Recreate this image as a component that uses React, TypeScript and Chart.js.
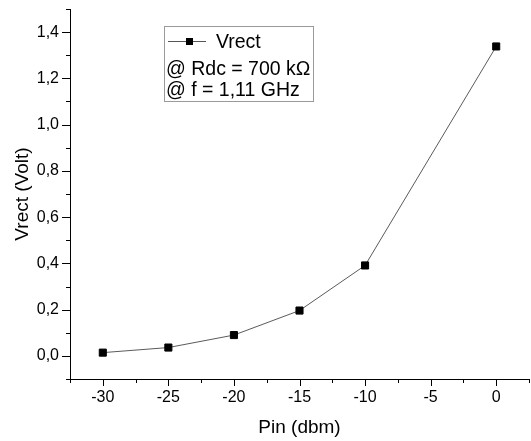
import React, { useEffect, useRef } from 'react';
import { Chart, registerables } from 'chart.js';

Chart.register(...registerables);

const pinDbm = [-30, -25, -20, -15, -10, 0];
const vrectVolt = [0.014, 0.036, 0.09, 0.196, 0.391, 1.338];
const xTickLabels = [-30, -25, -20, -15, -10, -5, 0];
const yTickLabels = [0, 0.2, 0.4, 0.6, 0.8, 1.0, 1.2, 1.4];
const seriesName = 'Vrect';
const annotationLines = ['@ Rdc = 700 kΩ', '@ f = 1,11 GHz'];
const xTitle = 'Pin (dbm)';
const yTitle = 'Vrect (Volt)';

const FONT = '"Liberation Sans", Arial, sans-serif';

const isIn = (arr: number[], v: number) => arr.some((t) => Math.abs(t - v) < 1e-6);

const tickMarks = {
  id: 'tickMarks',
  afterDraw(chart: any) {
    const ctx = chart.ctx;
    const xs = chart.scales.x;
    const ys = chart.scales.y;
    const area = chart.chartArea;
    ctx.save();
    ctx.strokeStyle = '#000';
    ctx.lineWidth = 1;
    ctx.beginPath();
    xs.ticks.forEach((t: any) => {
      const px = Math.round(xs.getPixelForValue(t.value)) + 0.5;
      const len = isIn(xTickLabels, t.value) ? 7 : 4;
      ctx.moveTo(px, area.bottom);
      ctx.lineTo(px, area.bottom + len);
    });
    ys.ticks.forEach((t: any) => {
      const py = Math.round(ys.getPixelForValue(t.value)) + 0.5;
      const len = isIn(yTickLabels, t.value) ? 8 : 4;
      ctx.moveTo(area.left, py);
      ctx.lineTo(area.left - len, py);
    });
    ctx.stroke();
    ctx.restore();
  },
};

const legendBox = {
  id: 'legendBox',
  afterDraw(chart: any) {
    const ctx = chart.ctx;
    ctx.save();
    ctx.strokeStyle = '#9a9a9a';
    ctx.lineWidth = 1;
    ctx.strokeRect(164.5, 26.5, 149, 75);
    ctx.strokeStyle = '#555';
    ctx.beginPath();
    ctx.moveTo(168, 41.5);
    ctx.lineTo(206, 41.5);
    ctx.stroke();
    ctx.fillStyle = '#000';
    ctx.fillRect(186, 38, 7, 7);
    ctx.font = '19.5px ' + FONT;
    ctx.textBaseline = 'alphabetic';
    ctx.textAlign = 'left';
    ctx.fillText(seriesName, 216, 48);
    ctx.fillText(annotationLines[0], 166, 74.5);
    ctx.fillText(annotationLines[1], 166, 96);
    ctx.restore();
  },
};

export default function App() {
  const ref = useRef<HTMLCanvasElement | null>(null);

  useEffect(() => {
    document.body.style.margin = '0';
    document.body.style.overflow = 'hidden';
    const canvas = ref.current;
    if (!canvas) return;
    const chart = new Chart(canvas, {
      type: 'line',
      data: {
        datasets: [
          {
            label: seriesName,
            data: pinDbm.map((x, i) => ({ x, y: vrectVolt[i] })),
            borderColor: '#5a5a5a',
            borderWidth: 1,
            pointStyle: 'rect',
            pointRadius: 5,
            pointBorderWidth: 1,
            pointBackgroundColor: '#000',
            pointBorderColor: '#000',
            tension: 0,
            fill: false,
            clip: false,
          },
        ],
      },
      plugins: [tickMarks, legendBox],
      options: {
        responsive: false,
        animation: false,
        devicePixelRatio: 1,
        layout: { autoPadding: false, padding: { top: 9, right: 2, left: 0, bottom: 0 } },
        plugins: {
          legend: { display: false },
          tooltip: { enabled: false },
        },
        scales: {
          x: {
            type: 'linear',
            min: -32.5,
            max: 2.5,
            grid: { display: false, drawTicks: false },
            border: { display: true, color: '#000', width: 1 },
            ticks: {
              stepSize: 2.5,
              autoSkip: false,
              maxRotation: 0,
              padding: 9,
              color: '#000',
              font: { family: FONT, size: 16 },
              callback: (v: any) => (isIn(xTickLabels, Number(v)) ? String(Math.round(Number(v))) : ''),
            },
            title: {
              display: true,
              text: xTitle,
              color: '#000',
              font: { family: FONT, size: 19 },
              padding: { top: 0, bottom: 2 },
            },
            afterFit: (s: any) => {
              s.height = 62;
              s.paddingLeft = 0;
              s.paddingRight = 0;
              s.paddingTop = 0;
              s.paddingBottom = 0;
            },
          },
          y: {
            type: 'linear',
            min: -0.1,
            max: 1.5,
            grid: { display: false, drawTicks: false },
            border: { display: true, color: '#000', width: 1 },
            ticks: {
              stepSize: 0.1,
              autoSkip: false,
              padding: 11,
              color: '#000',
              font: { family: FONT, size: 16 },
              callback: (v: any) =>
                isIn(yTickLabels, Number(v)) ? Number(v).toFixed(1).replace('.', ',') : '',
            },
            title: {
              display: true,
              text: yTitle,
              color: '#000',
              font: { family: FONT, size: 19 },
              padding: { top: 11.5, bottom: 0 },
            },
            afterFit: (s: any) => {
              s.width = 70;
              s.paddingLeft = 0;
              s.paddingRight = 0;
              s.paddingTop = 0;
              s.paddingBottom = 0;
            },
          },
        },
      },
    } as any);
    return () => chart.destroy();
  }, []);

  return (
    <div style={{ width: 531, height: 441 }}>
      <canvas ref={ref} width={531} height={441} style={{ display: 'block' }} />
    </div>
  );
}
